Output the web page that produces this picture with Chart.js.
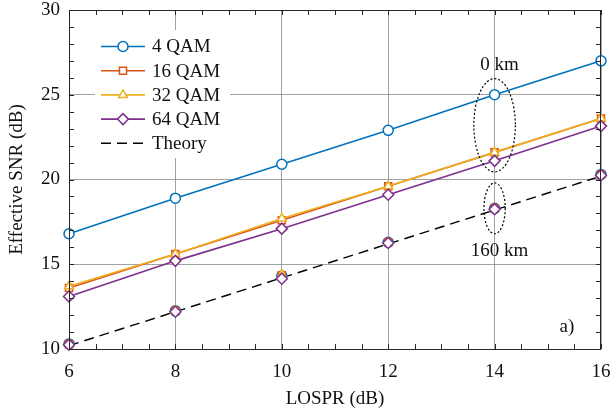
<!DOCTYPE html>
<html>
<head>
<meta charset="utf-8">
<script src="https://cdn.jsdelivr.net/npm/chart.js@4/dist/chart.umd.min.js"></script>
<style>
html, body { margin: 0; padding: 0; background: #fff; }
#wrap { width: 615px; height: 413px; }
</style>
</head>
<body>
<div id="wrap"><canvas id="snrChart"></canvas></div>
<script>
// x values (LOSPR, dB)
const lospr = [6, 8, 10, 12, 14, 16];

// 0 km (back-to-back) effective SNR
const qam4 = [16.8, 18.9, 20.9, 22.9, 25.0, 27.0];
const qam16 = [13.6, 15.6, 17.6, 19.6, 21.6, 23.6];
const qam32 = [13.7, 15.6, 17.7, 19.6, 21.6, 23.6];
const qam64 = [13.1, 15.2, 17.1, 19.1, 21.1, 23.15];

// 160 km effective SNR (markers only)
const far4 = [10.3, 12.25, 14.3, 16.3, 18.3, 20.3];
const far16 = [10.3, 12.25, 14.35, 16.3, 18.3, 20.3];
const far32 = [10.3, 12.25, 14.4, 16.3, 18.3, 20.3];
const far64 = [10.25, 12.2, 14.15, 16.25, 18.25, 20.25];

const theory = [10.2, 12.2, 14.2, 16.2, 18.2, 20.2];

const xTicks = [6, 8, 10, 12, 14, 16];
const yTicks = [10, 15, 20, 25, 30];

const labels = ['4 QAM', '16 QAM', '32 QAM', '64 QAM', 'Theory'];
const colors = ['#0072BD', '#D95319', '#EDB120', '#7E2F8E', '#000000'];
const markers = ['circle', 'rect', 'triangle', 'rectRot', false];

// annotations: [x, y, label]
const notes = [[14, 26.75, '0 km'], [14, 15.8, '160 km']];
// ellipses: [cx, cy, rx, ry] in data units
const ellipses = [[14, 23.2, 0.39, 2.75], [14, 18.3, 0.2, 1.5]];

const serif = "'Liberation Serif', 'Times New Roman', serif";

const toPts = ys => ys.map((y, i) => ({x: lospr[i], y: y}));

function series(idx, ys, opts) {
    return Object.assign({
        label: labels[idx],
        data: toPts(ys),
        borderColor: colors[idx],
        backgroundColor: '#ffffff',
        pointBorderColor: colors[idx],
        pointBackgroundColor: '#ffffff',
        pointStyle: markers[idx],
        pointRadius: idx === 3 ? 5.5 : 5,
        pointBorderWidth: 1.5,
        borderWidth: 1.6,
        tension: 0,
        clip: false
    }, opts || {});
}

const datasets = [
    series(0, qam4, {order: 4}),
    series(1, qam16, {order: 3}),
    series(2, qam32, {order: 2}),
    series(3, qam64, {order: 1}),
    {
        label: labels[4], data: toPts(theory), borderColor: '#000', borderWidth: 1.4,
        borderDash: [10, 6], pointRadius: 0, order: 9, clip: false
    },
    series(0, far4, {showLine: false, order: 8, label: '_far'}),
    series(1, far16, {showLine: false, order: 7, label: '_far'}),
    series(2, far32, {showLine: false, order: 6, label: '_far'}),
    series(3, far64, {showLine: false, order: 5, label: '_far'})
];

const decorPlugin = {
    id: 'decor',
    afterDatasetsDraw(chart) {
        const ctx = chart.ctx;
        const xs = chart.scales.x, ys = chart.scales.y;
        const a = chart.chartArea;
        ctx.save();

        // ellipses
        ctx.strokeStyle = '#000';
        ctx.lineWidth = 1.2;
        ctx.setLineDash([2, 2]);
        ellipses.forEach(e => {
            const cx = xs.getPixelForValue(e[0]), cy = ys.getPixelForValue(e[1]);
            const rx = Math.abs(xs.getPixelForValue(e[0] + e[2]) - cx);
            const ry = Math.abs(ys.getPixelForValue(e[1] + e[3]) - cy);
            ctx.beginPath();
            ctx.ellipse(cx, cy, rx, ry, 0, 0, Math.PI * 2);
            ctx.stroke();
        });
        ctx.setLineDash([]);

        // text notes
        ctx.fillStyle = '#111';
        ctx.font = '19px ' + serif;
        ctx.textAlign = 'center';
        ctx.textBaseline = 'middle';
        notes.forEach(n => {
            ctx.fillText(n[2], xs.getPixelForValue(n[0]) + 5, ys.getPixelForValue(n[1]));
        });
        ctx.fillText('a)', a.right - 34, a.bottom - 22);

        // frame with inward ticks
        ctx.strokeStyle = '#262626';
        ctx.lineWidth = 1;
        ctx.strokeRect(a.left + 0.5, a.top + 0.5, a.right - a.left - 1, a.bottom - a.top);
        ctx.beginPath();
        for (let v = 6; v <= 16; v += 0.5) {
            const px = Math.round(xs.getPixelForValue(v)) + 0.5;
            ctx.moveTo(px, a.bottom); ctx.lineTo(px, a.bottom - 5);
            ctx.moveTo(px, a.top); ctx.lineTo(px, a.top + 5);
        }
        for (let v = 10; v <= 30; v += 1) {
            const py = Math.round(ys.getPixelForValue(v)) + 0.5;
            ctx.moveTo(a.left, py); ctx.lineTo(a.left + 5, py);
            ctx.moveTo(a.right, py); ctx.lineTo(a.right - 5, py);
        }
        ctx.stroke();

        // legend box inside plot
        const lx = a.left + 26, ly = a.top + 20;
        ctx.fillStyle = '#fff';
        ctx.fillRect(lx, ly, 135, 128);
        ctx.textAlign = 'left';
        for (let i = 0; i < 5; i++) {
            const ds = chart.data.datasets[i];
            const y = ly + 16.5 + i * 24.2;
            ctx.strokeStyle = ds.borderColor;
            ctx.lineWidth = ds.borderWidth;
            ctx.setLineDash(ds.borderDash ? [10, 6] : []);
            ctx.beginPath();
            ctx.moveTo(lx + 6, y);
            ctx.lineTo(lx + 50, y);
            ctx.stroke();
            ctx.setLineDash([]);
            if (ds.pointStyle) {
                ctx.fillStyle = '#fff';
                ctx.strokeStyle = ds.pointBorderColor;
                ctx.lineWidth = ds.pointBorderWidth;
                Chart.helpers.drawPoint(ctx, {
                    pointStyle: ds.pointStyle, radius: ds.pointRadius,
                    rotation: 0, borderWidth: ds.pointBorderWidth
                }, lx + 28, y);
            }
            ctx.fillStyle = '#111';
            ctx.fillText(ds.label, lx + 57, y + 1);
        }
        ctx.restore();
    }
};

new Chart(document.getElementById('snrChart'), {
    type: 'line',
    data: {datasets: datasets},
    plugins: [decorPlugin],
    options: {
        responsive: true,
        maintainAspectRatio: false,
        animation: false,
        layout: {padding: {top: 10, right: 14, left: 0, bottom: 0}},
        plugins: {
            legend: {display: false},
            tooltip: {enabled: false}
        },
        scales: {
            x: {
                type: 'linear',
                min: 6,
                max: 16,
                afterBuildTicks: s => { s.ticks = xTicks.map(v => ({value: v})); },
                afterFit: s => { s.height = 64; s.paddingLeft = 0; s.paddingRight = 0; },
                grid: {color: '#8a8a8a', lineWidth: 0.8, drawTicks: false},
                border: {display: false},
                ticks: {
                    color: '#111',
                    padding: 14,
                    maxRotation: 0,
                    font: {family: serif, size: 19, lineHeight: 1}
                },
                title: {
                    display: true,
                    text: 'LOSPR (dB)',
                    color: '#111',
                    padding: {top: 0, bottom: 3},
                    font: {family: serif, size: 19}
                }
            },
            y: {
                min: 10,
                max: 30,
                afterBuildTicks: s => { s.ticks = yTicks.map(v => ({value: v})); },
                afterFit: s => { s.width = 69; s.paddingTop = 0; s.paddingBottom = 0; },
                grid: {color: '#8a8a8a', lineWidth: 0.8, drawTicks: false},
                border: {display: false},
                ticks: {
                    color: '#111',
                    padding: 9,
                    font: {family: serif, size: 19, lineHeight: 1}
                },
                title: {
                    display: true,
                    text: 'Effective SNR (dB)',
                    color: '#111',
                    padding: {top: 6, bottom: 0},
                    font: {family: serif, size: 19}
                }
            }
        }
    }
});
</script>
</body>
</html>
